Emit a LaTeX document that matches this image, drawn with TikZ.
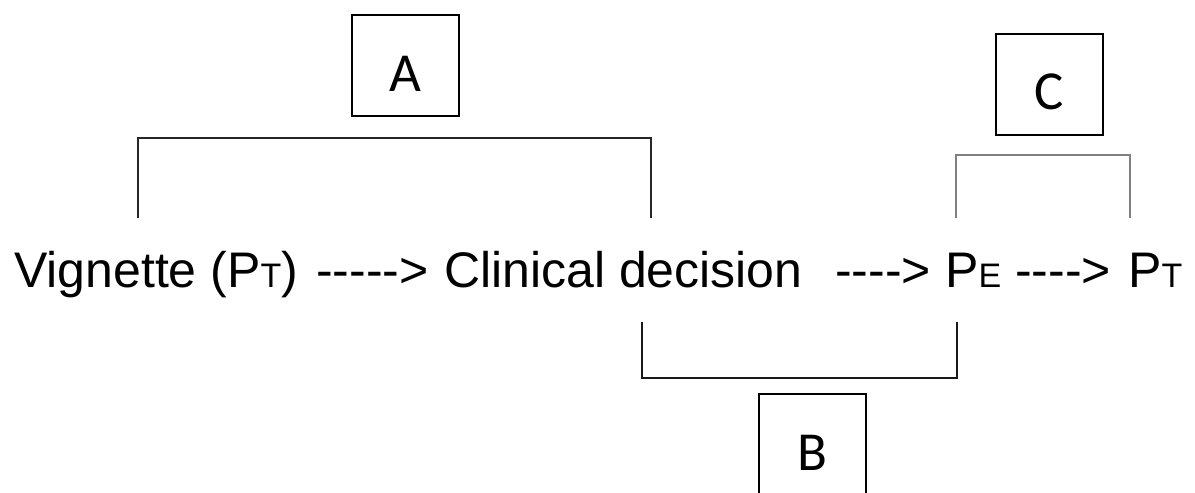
\documentclass[tikz,border=0pt]{standalone}
\usepackage{fontspec}
\newfontfamily\arialf{Liberation Sans}
\newfontfamily\calf{Carlito}
\newcommand\smc[1]{{\fontsize{34}{34}\selectfont #1}}
\begin{document}
\begin{tikzpicture}[x=1pt,y=-1pt,
  txt/.style={anchor=base west,inner sep=0pt,font=\arialf\fontsize{50}{50}\selectfont},
  letterbox/.style={draw=black,line width=2pt,minimum width=107pt,minimum height=101pt,inner sep=0pt,
     text height=51pt,text depth=0pt,font=\calf\fontsize{55}{55}\selectfont},
  brk/.style={line width=2.8pt,line cap=butt,line join=miter},
  ]
\useasboundingbox (0,0) rectangle (1195,493);
\begin{scope}
\clip (0,0) rectangle (1195,493);
% text line
\node[txt] (vig) at (14,287) {Vignette (P\smc{T})};
\node[txt] (ar1) at (316,287) {-{}-{}-{}-{}->};
\node[txt] (cd) at (444,287) {Clinical decision};
\node[txt] (ar2) at (835,287) {-{}-{}-{}->};
\node[txt] (pe) at (945,287) {P\smc{E}};
\node[txt] (ar3) at (1015,287) {-{}-{}-{}->};
\node[txt] (pt) at (1128,287) {P\smc{T}};
% boxes
\node[letterbox] (A) at (405,65.5) {A};
\node[letterbox] (C) at (1049.5,84) {C};
\node[letterbox] (B) at (812.5,444.5) {B};
% brackets
\coordinate (a1) at (138,218);
\coordinate (a2) at (651,218);
\draw[brk,black!85] (a1) |- (651,138) -- (a2);
\coordinate (c1) at (956,218);
\coordinate (c2) at (1130,218);
\draw[brk,black!50] (c1) |- (1130,155) -- (c2);
\coordinate (b1) at (642,322);
\coordinate (b2) at (957,322);
\draw[brk,black!90] (b1) |- (957,378) -- (b2);
\end{scope}
\end{tikzpicture}
\end{document}
